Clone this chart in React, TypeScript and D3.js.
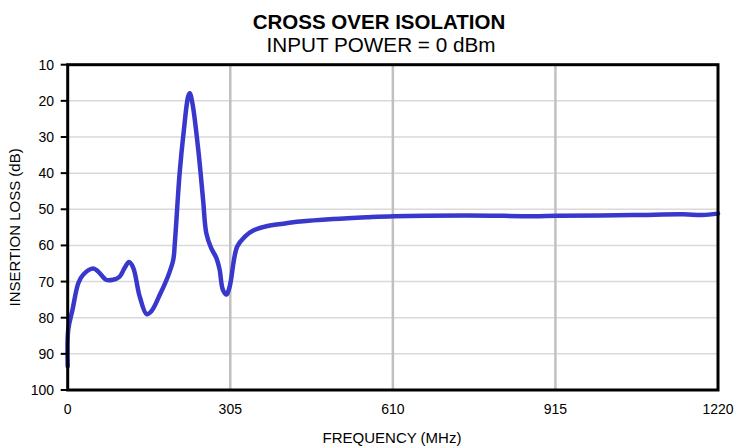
import React from "react";
import * as d3 from "d3";

const freqMHz = [0, 1, 9, 20, 29, 48, 57, 72, 85, 97, 107, 115, 123, 135, 148, 157, 173, 188, 198, 201, 210, 218, 226, 229, 234, 245, 254, 260, 269, 279, 285, 291, 298, 304, 318, 333, 348, 373, 404, 436, 498, 561, 611, 749, 873, 917, 1061, 1155, 1190, 1220];
const lossDb = [93.5, 83.3, 77.8, 70.4, 68.1, 66.4, 67.2, 69.5, 69.5, 68.7, 66.2, 64.6, 66.2, 74.1, 79.0, 78.2, 73.6, 68.6, 64.0, 59.3, 40.0, 28.0, 18.8, 17.9, 20.7, 33.6, 47.4, 56.6, 60.7, 63.5, 66.7, 72.2, 73.6, 71.3, 60.3, 57.5, 55.9, 54.7, 54.0, 53.4, 52.7, 52.2, 51.9, 51.7, 51.9, 51.8, 51.6, 51.4, 51.6, 51.2];
const xTicks = [0, 305, 610, 915, 1220];
const yTicks = [10, 20, 30, 40, 50, 60, 70, 80, 90, 100];

const W = 737, H = 448;
const L = 67.7, R = 718, T = 64.7, B = 390;
const font = "'Liberation Sans', Arial, sans-serif";

export default function App() {
  const x = d3.scaleLinear().domain([0, 1220]).range([L, R]);
  const y = d3.scaleLinear().domain([10, 100]).range([T, B]);
  const pts: [number, number][] = freqMHz.map((f, i) => [f, lossDb[i]]);
  const line = d3
    .line<[number, number]>()
    .x((d) => x(d[0]))
    .y((d) => y(d[1]))
    .curve(d3.curveCatmullRom.alpha(0.5));

  return (
    <svg width={W} height={H} style={{ position: "absolute", left: 0, top: 0, background: "#fff" }} fontFamily={font}>
      <rect x={0} y={0} width={W} height={H} fill="#fff" />
      {yTicks.filter((t) => t !== 10 && t !== 100).map((t) => (
        <line key={"hy" + t} x1={L} x2={R} y1={y(t)} y2={y(t)} stroke="#d9d9d9" strokeWidth={1.5} />
      ))}
      {xTicks.filter((t) => t !== 0 && t !== 1220).map((t) => (
        <line key={"vx" + t} x1={x(t)} x2={x(t)} y1={T} y2={B} stroke="#c0c0c0" strokeWidth={2.5} />
      ))}
      <path d={line(pts) || ""} fill="none" stroke="#3838cc" strokeWidth={4.5} strokeLinejoin="round" strokeLinecap="round" />
      <rect x={L} y={T} width={R - L} height={B - T} fill="none" stroke="#000" strokeWidth={3} />
      {yTicks.map((t) => (
        <g key={"yt" + t}>
          <line x1={L - 7} x2={L} y1={y(t)} y2={y(t)} stroke="#000" strokeWidth={2} />
          <text x={54} y={y(t) + 5} textAnchor="end" fontSize={14} fill="#000">{t}</text>
        </g>
      ))}
      {xTicks.map((t) => (
        <text key={"xt" + t} x={x(t)} y={414} textAnchor="middle" fontSize={14} fill="#000">{t}</text>
      ))}
      <text x={379} y={29.3} textAnchor="middle" fontSize={20.5} fontWeight="bold" fill="#000">CROSS OVER ISOLATION</text>
      <text x={381} y={52} textAnchor="middle" fontSize={20.7} fill="#000">INPUT POWER = 0 dBm</text>
      <text x={392} y={443} textAnchor="middle" fontSize={15} fill="#000">FREQUENCY (MHz)</text>
      <text transform={`translate(20, ${(T + B) / 2}) rotate(-90)`} textAnchor="middle" fontSize={15} fill="#000">INSERTION LOSS (dB)</text>
    </svg>
  );
}
